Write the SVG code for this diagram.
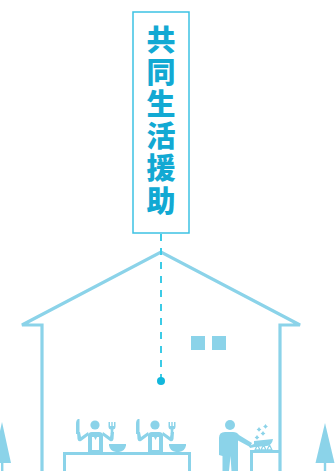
<svg xmlns="http://www.w3.org/2000/svg" width="335" height="471" viewBox="0 0 335 471">
  <style>
    .title { font-family: "Noto Sans CJK JP", "Noto Sans CJK SC", sans-serif; font-weight: 900; font-size: 29px; fill: #12a9d3; writing-mode: vertical-rl; letter-spacing: 3.2px; }
    .frame { fill: #ffffff; stroke: #3cc2e3; stroke-width: 1.5; }
    .house { fill: none; stroke: #8bd3e9; stroke-width: 3.2; stroke-linejoin: miter; }
    .icon { fill: #8bd3e9; }
    .bar { fill: none; stroke: #8bd3e9; stroke-width: 3; }
    .link { fill: none; stroke: #3ccbe6; stroke-width: 2; stroke-dasharray: 7 7; }
  </style>
  <defs>
    <!-- waiter holding knife and fork, with a bowl beside -->
    <g id="waiter">
      <circle cx="95" cy="425" r="4.6" class="icon"/>
      <path class="icon" d="M88,452 L88,436 Q88,432 92,432 L99,432 Q103,432 103,436 L103,452 Z"/>
      <path fill="#ffffff" d="M92,437 L94,437 L95.5,440 L97,437 L99,437 L99,450 L92,450 Z"/>
      <!-- left arm and knife -->
      <path class="icon" d="M89,435 L81,441 Q78,442 77.5,439 L77,432 L80,432 L81,437 L88,432 Z"/>
      <path class="icon" d="M76,434 L76,424 Q76,420 78,419 L79.5,419 L79.5,434 Z"/>
      <!-- right arm and fork -->
      <path class="icon" d="M102,435 L110,441 Q113,442 113.5,439 L114,432 L111,432 L110,437 L103,432 Z"/>
      <path class="icon" d="M108.5,422 L110,422 L110,426 L111.3,426 L111.3,422 L112.7,422 L112.7,426 L114,426 L114,422 L115.5,422 L115.5,427 Q115.5,429 113.3,429.5 L113.3,434 L110.7,434 L110.7,429.5 Q108.5,429 108.5,427 Z"/>
      <!-- bowl -->
      <path class="icon" d="M109,444 L126,444 L126,445.5 Q125,451 119,452 L116,452 Q110,451 109,445.5 Z"/>
    </g>
  </defs>

  <!-- house outline with roof eaves -->
  <g id="house">
    <polyline class="house" points="42,471 42,325 22,325 161,252 300,325 280,325 280,471"/>
    <rect x="191" y="336" width="14" height="14" class="icon"/>
    <rect x="212" y="336" width="14" height="14" class="icon"/>
  </g>

  <!-- trees -->
  <g id="tree-left">
    <polygon class="icon" points="2,422 -7,463 11,463"/>
    <rect x="1" y="462" width="2.4" height="9" class="icon"/>
  </g>
  <g id="tree-right">
    <polygon class="icon" points="325,423 315.5,463 334.5,463"/>
    <rect x="323.8" y="462" width="2.4" height="9" class="icon"/>
  </g>

  <!-- dining table with two waiters -->
  <g id="dining">
    <polyline class="bar" points="64.5,471 64.5,453.5 189.5,453.5 189.5,471"/>
    <use href="#waiter"/>
    <use href="#waiter" x="60"/>
  </g>

  <!-- cook at the stove -->
  <g id="cook">
    <circle cx="230" cy="425" r="5" class="icon"/>
    <path class="icon" d="M219,455 L219,438 Q219,432 225,432 L233,432 Q237,432 239,435 L252,443 L250,447 L238,440.5 L238,471 L231.5,471 L230.5,456 L229,471 L222.5,471 L222.5,456 Z"/>
    <path class="icon" d="M249,446 L254,444 L254,441 L273,439 Q272,445 267,446 L255,447 L250,448 Z"/>
    <g fill="#ffffff" stroke="#8bd3e9" stroke-width="1.3" stroke-linejoin="round">
      <path d="M255,450 L257.5,445 L260,450 Z"/>
      <path d="M261,450 L263.5,445 L266,450 Z"/>
      <path d="M267,450 L269.5,445 L272,450 Z"/>
    </g>
    <g class="icon">
      <path d="M257,435 l1,1.4 l1.4,1 l-1.4,1 l-1,1.4 l-1,-1.4 l-1.4,-1 l1.4,-1 Z"/>
      <path d="M263,431 l1,1.4 l1.4,1 l-1.4,1 l-1,1.4 l-1,-1.4 l-1.4,-1 l1.4,-1 Z"/>
      <path d="M259,427 l1,1.4 l1.4,1 l-1.4,1 l-1,1.4 l-1,-1.4 l-1.4,-1 l1.4,-1 Z"/>
      <path d="M265.5,424 l1,1.4 l1.4,1 l-1.4,1 l-1,1.4 l-1,-1.4 l-1.4,-1 l1.4,-1 Z"/>
    </g>
    <polyline class="bar" points="251.5,471 251.5,451.5 279,451.5"/>
  </g>

  <!-- connector from the label down into the house -->
  <g id="connectors">
    <line class="link" x1="161" y1="234" x2="161" y2="378"/>
    <circle cx="161" cy="381" r="4" fill="#12b7dc"/>
  </g>

  <!-- vertical label -->
  <g id="label">
    <rect x="133" y="12" width="56" height="221" class="frame"/>
    <text class="title" x="161" y="25">共同生活援助</text>
  </g>
</svg>
